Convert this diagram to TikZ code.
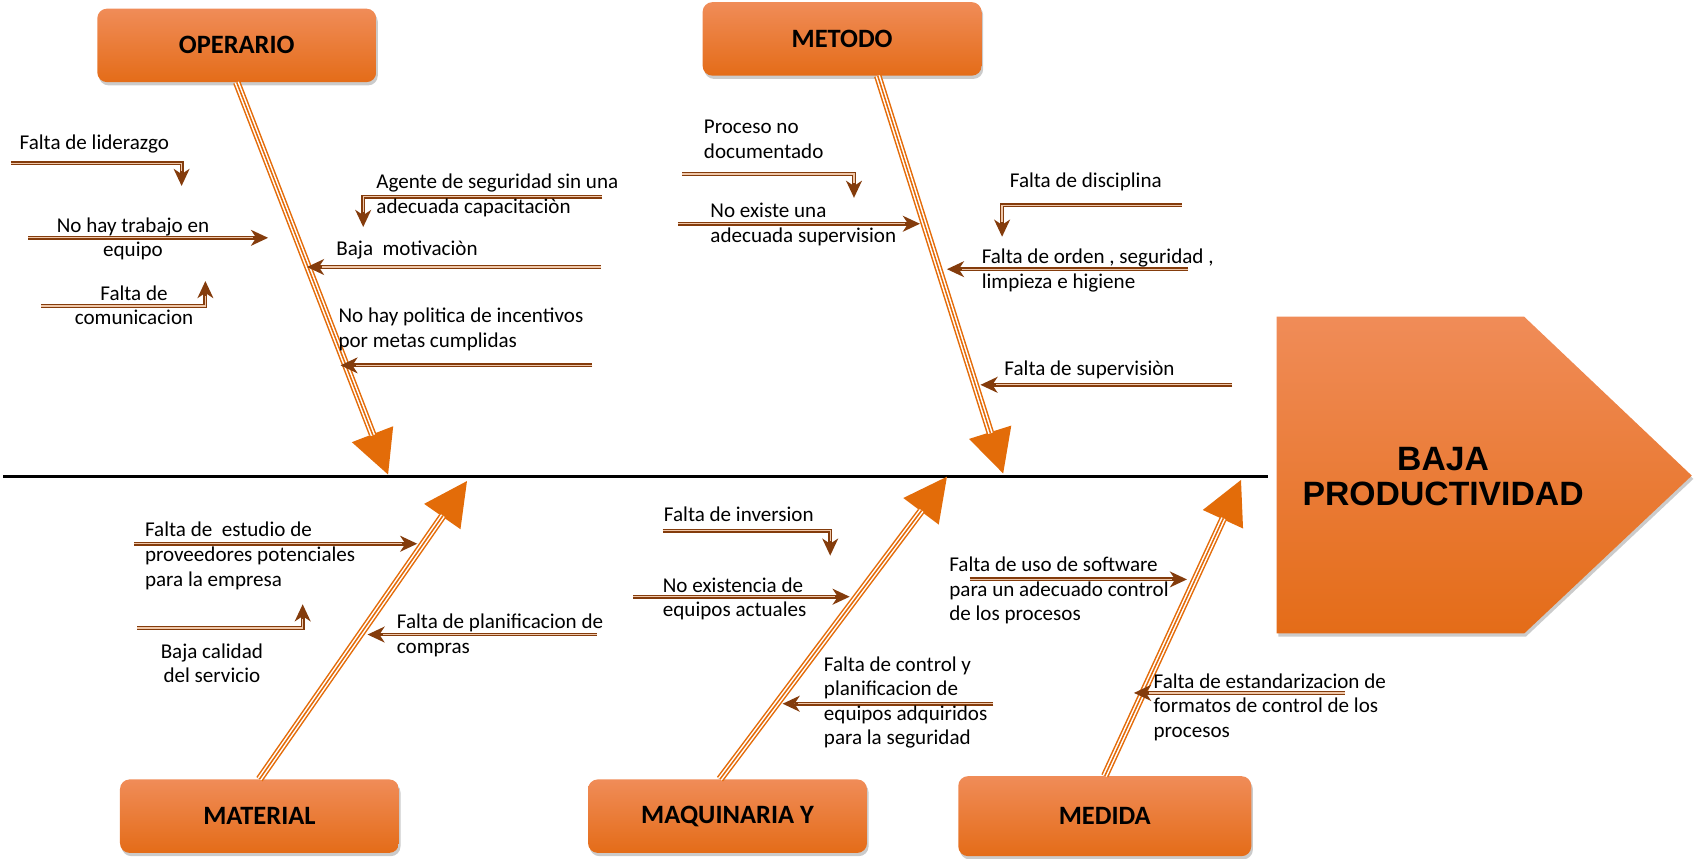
\documentclass[tikz,border=0pt]{standalone}
\usepackage{fontspec}
\setmainfont{Carlito}
\newfontfamily\headfont{Liberation Sans}
\usetikzlibrary{arrows.meta,shadows}

\definecolor{boxtop}{RGB}{240,140,88}
\definecolor{boxmid}{RGB}{242,125,48}
\definecolor{boxbot}{RGB}{228,108,24}
\definecolor{boneorange}{RGB}{228,108,10}
\definecolor{bonetip}{RGB}{227,108,9}
\definecolor{causeline}{RGB}{132,60,12}
\definecolor{causecore}{RGB}{240,200,170}

\tikzset{
  boxshadow/.style={drop shadow={shadow xshift=1.5pt, shadow yshift=-3pt, fill=black!45, opacity=0.45}},
  catbox/.style={rounded corners=9pt, minimum width=258pt, minimum height=68pt,
    top color=boxtop, middle color=boxmid, bottom color=boxbot, draw=none,
    font=\fontsize{24.5}{28}\selectfont\bfseries, text=black, boxshadow},
  bonestroke/.style={draw=boneorange, line width=7pt,
    -{Triangle[length=40pt,width=41pt,line width=0pt,color=bonetip]},
    postaction={draw=white, line width=4.2pt, -, shorten >=39pt},
    postaction={draw=boneorange, line width=1.4pt, -, shorten >=39pt}},
  causearrow/.style={draw=causeline, line width=3.6pt,
    -{Stealth[length=16pt,width=15pt,inset=5pt,line width=0pt]},
    postaction={draw=causecore, line width=1.2pt, -, shorten >=14pt}},
  causetext/.style={font=\fontsize{19.5}{22.7}\selectfont, align=left,
    anchor=north west, inner sep=0pt},
  causetextc/.style={causetext, align=center, anchor=north}
}

\begin{document}
\begin{tikzpicture}[x=1pt,y=-1pt]
\useasboundingbox (0,0) rectangle (1568,794);

% effect head
\path[top color=boxtop, middle color=boxmid, bottom color=boxbot, boxshadow]
  (1181,293) -- (1410,293) -- (1565,440) -- (1410,586) -- (1181,586) -- cycle;
\node[font=\headfont\fontsize{31.2}{33}\selectfont\bfseries, align=center] (effect) at (1335,441) {BAJA\\PRODUCTIVIDAD};

% spine
\coordinate (spineL) at (3,441);
\coordinate (spineR) at (1173,441);
\draw[line width=2.6pt] (spineL) -- (spineR);

% category boxes
\node[catbox] (operario) at (219,42) {OPERARIO};
\node[catbox] (metodo) at (779,36) {METODO};
\node[catbox] (material) at (240,755) {MATERIAL};
\node[catbox] (maquinaria) at (673,755) {MAQUINARIA Y};
\node[catbox, minimum width=271pt, minimum height=74pt] (medida) at (1022,755) {MEDIDA};

% main bones
\coordinate (tipO) at (359,439);
\coordinate (tipMe) at (928,438);
\coordinate (tipMa) at (432,445);
\coordinate (tipMq) at (876,441);
\coordinate (tipMd) at (1148,444);
\draw[bonestroke] (operario.south) -- (tipO);
\draw[bonestroke] ([xshift=33pt]metodo.south) -- (tipMe);
\draw[bonestroke] (material.north) -- (tipMa);
\draw[bonestroke] ([xshift=-7pt]maquinaria.north) -- (tipMq);
\draw[bonestroke] (medida.north) -- (tipMd);

% cause arrows
\coordinate (a1) at (10,151);   \coordinate (b1) at (168,172);
\coordinate (a2) at (26,220);   \coordinate (b2) at (248,220);
\coordinate (a3) at (38,283);   \coordinate (b3) at (190,260);
\coordinate (a4) at (557,182);  \coordinate (b4) at (336,210);
\coordinate (a5) at (556,247);  \coordinate (b5) at (284,247);
\coordinate (a6) at (548,338);  \coordinate (b6) at (315,338);
\coordinate (a7) at (631,161);  \coordinate (b7) at (790,183);
\coordinate (a8) at (627,207);  \coordinate (b8) at (851,207);
\coordinate (a9) at (1093,190); \coordinate (b9) at (927,219);
\coordinate (a10) at (1099,249); \coordinate (b10) at (876,249);
\coordinate (a11) at (1140,356); \coordinate (b11) at (907,356);
\coordinate (a12) at (124,503); \coordinate (b12) at (386,503);
\coordinate (a13) at (127,581); \coordinate (b13) at (280,559);
\coordinate (a14) at (552,587); \coordinate (b14) at (340,587);
\coordinate (a15) at (613,491); \coordinate (b15) at (768,514);
\coordinate (a16) at (586,552); \coordinate (b16) at (786,552);
\coordinate (a17) at (919,651); \coordinate (b17) at (724,651);
\coordinate (a18) at (897,536); \coordinate (b18) at (1098,536);
\coordinate (a19) at (1244,641); \coordinate (b19) at (1049,641);

\draw[causearrow] (a1) -| (b1);
\draw[causearrow] (a2) -- (b2);
\draw[causearrow] (a3) -| (b3);
\draw[causearrow] (a4) -| (b4);
\draw[causearrow] (a5) -- (b5);
\draw[causearrow] (a6) -- (b6);
\draw[causearrow] (a7) -| (b7);
\draw[causearrow] (a8) -- (b8);
\draw[causearrow] (a9) -| (b9);
\draw[causearrow] (a10) -- (b10);
\draw[causearrow] (a11) -- (b11);
\draw[causearrow] (a12) -- (b12);
\draw[causearrow] (a13) -| (b13);
\draw[causearrow] (a14) -- (b14);
\draw[causearrow] (a15) -| (b15);
\draw[causearrow] (a16) -- (b16);
\draw[causearrow] (a17) -- (b17);
\draw[causearrow] (a18) -- (b18);
\draw[causearrow] (a19) -- (b19);

% cause labels
\node[causetext] (t1) at (18,125) {Falta de liderazgo};
\node[causetextc] (t2) at (123,201) {No hay trabajo en\\equipo};
\node[causetextc] (t3) at (124,264) {Falta de\\comunicacion};
\node[causetext] (t4) at (348,161) {Agente de seguridad sin una\\adecuada capacitaciòn};
\node[causetext] (t5) at (311,223) {Baja\ \ motivaciòn};
\node[causetext] (t6) at (313,285) {No hay politica de incentivos\\por metas cumplidas};
\node[causetext] (t7) at (651,111) {Proceso no\\documentado};
\node[causetext] (t8) at (657,188) {No existe una\\adecuada supervision};
\node[causetext] (t9) at (934,160) {Falta de disciplina};
\node[causetext] (t10) at (908,230) {Falta de orden , seguridad ,\\limpieza e higiene};
\node[causetext] (t11) at (929,334) {Falta de supervisiòn};
\node[causetext] (t12) at (134,483) {Falta de\ \ estudio de\\proveedores potenciales\\para la empresa};
\node[causetextc] (t13) at (196,595) {Baja calidad\\del servicio};
\node[causetext] (t14) at (367,568) {Falta de planificacion de\\compras};
\node[causetext] (t15) at (614,469) {Falta de inversion};
\node[causetext] (t16) at (613,534) {No existencia de\\equipos actuales};
\node[causetext] (t17) at (762,607) {Falta de control y\\planificacion de\\equipos adquiridos\\para la seguridad};
\node[causetext] (t18) at (878,515) {Falta de uso de software\\para un adecuado control\\de los procesos};
\node[causetext] (t19) at (1067,623) {Falta de estandarizacion de\\formatos de control de los\\procesos};
\end{tikzpicture}
\end{document}
